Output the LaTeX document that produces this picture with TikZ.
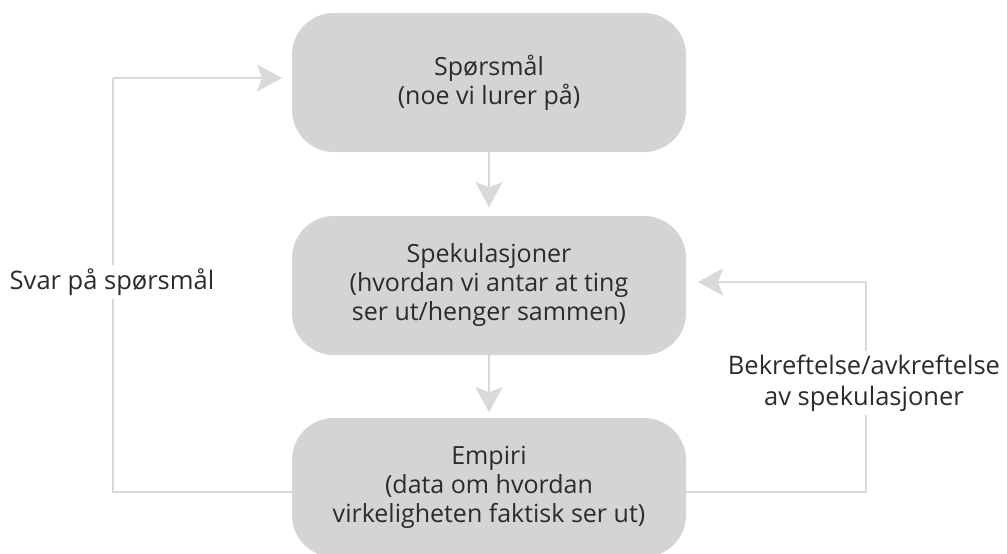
\documentclass[tikz,border=0pt]{standalone}
\usepackage{fontspec}
\setmainfont{Open Sans}
\usetikzlibrary{arrows.meta}
\definecolor{boxfill}{HTML}{D4D4D4}
\definecolor{linegray}{HTML}{D9D9D9}
\definecolor{txt}{HTML}{2B2B2B}
\tikzset{
  stagebox/.style={fill=boxfill, rounded corners=42pt, minimum width=394pt,
    minimum height=139pt, inner sep=0pt, align=center, text=txt,
    font=\fontsize{25}{29}\selectfont},
  flow/.style={draw=linegray, line width=2.4pt,
    -{Stealth[length=25pt, width=27pt, inset=5pt]}},
  plain/.style={draw=linegray, line width=2.4pt},
  sidelabel/.style={fill=white, align=center, text=txt, inner sep=4pt,
    font=\fontsize{25.5}{31}\selectfont}
}
\begin{document}
\begin{tikzpicture}[x=1pt, y=-1pt]
\useasboundingbox (0,0) rectangle (1007,554);
\begin{scope}
\clip (0,0) rectangle (1007,554);
\node[stagebox] (q) at (489, 82.5) {Spørsmål\\(noe vi lurer på)};
\node[stagebox] (s) at (489, 285.5) {Spekulasjoner\\(hvordan vi antar at ting\\ser ut/henger sammen)};
\node[stagebox] (e) at (489, 487.5) {Empiri\\(data om hvordan\\virkeligheten faktisk ser ut)};
\end{scope}

% straight flow downwards
\draw[flow] (q.south) -- ++(0,55) coordinate (t1);
\draw[flow] (s.south) -- ++(0,57) coordinate (t2);

% feedback from empirical data to the question
\coordinate (lb) at (113, 492);
\coordinate (lt) at (113, 78);
\coordinate (qin) at (282, 78);
\draw[plain] (e.west |- lb) -- (lb) -- (lt);
\draw[flow] (lt) -- (qin);
\node[sidelabel] (svar) at (112, 282) {Svar på spørsmål};

% feedback from empirical data to the speculations
\coordinate (rb) at (866, 492);
\coordinate (rt) at (866, 282);
\coordinate (sin) at (698, 282);
\draw[plain] (e.east |- rb) -- (rb) -- (rt);
\draw[flow] (rt) -- (sin);
\node[sidelabel] (bekr) at (864, 383) {Bekreftelse/avkreftelse\\av spekulasjoner};
\end{tikzpicture}
\end{document}
